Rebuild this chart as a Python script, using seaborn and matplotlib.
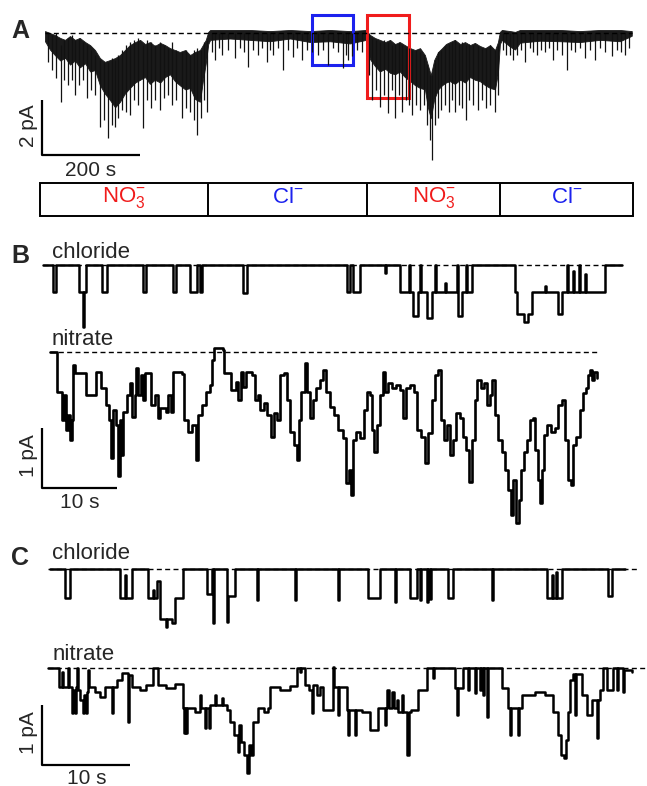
import matplotlib
matplotlib.use("Agg")
import matplotlib.pyplot as plt
from matplotlib.patches import Rectangle
import seaborn as sns

sns.set_theme(style="white")
plt.rcParams["font.family"] = ["Liberation Sans", "DejaVu Sans"]
plt.rcParams["mathtext.fontset"] = "custom"
plt.rcParams["mathtext.rm"] = "Liberation Sans"
plt.rcParams["mathtext.it"] = "Liberation Sans:italic"
plt.rcParams["mathtext.bf"] = "Liberation Sans:bold"

W, H = 647, 786
RED = "#f01c1c"
BLUE = "#1c22ee"

# ---------------- panel A: long recording (s, pA), dense band envelope + single spikes
a_env_t = [0, 10, 20, 31, 41, 51, 61, 71, 82, 92, 102, 112, 122, 133, 143, 153, 163, 173, 184, 194,
           204, 214, 224, 235, 245, 255, 265, 275, 286, 296, 306, 316, 322, 328, 333,
           337, 377, 418, 459, 500, 541, 581, 622, 655,
           657, 663, 673, 683, 694, 704, 714, 724, 734, 745, 755, 765, 775, 781, 787, 794, 802, 810,
           818, 826, 836, 847, 857, 867, 877, 887, 898, 908, 918, 924, 928,
           932, 949, 959, 969, 1010, 1051, 1091, 1132, 1173, 1197]
a_env_top = [0.07, 0, -0.07, -0.18, -0.25, -0.11, -0.25, -0.18, -0.33, -0.44,
             -0.62, -0.91, -1.05, -0.98, -0.91, -0.8, -0.62, -0.44, -0.33, -0.25,
             -0.4, -0.33, -0.47, -0.36, -0.44, -0.55, -0.62, -0.69, -0.62, -0.8,
             -0.69, -0.62, -0.44, -0.25, 0.04,
             0.11, 0.11, 0.11, 0.07, 0.11, 0.07, 0.11, 0.07, 0.11,
             0, -0.07, -0.18, -0.25, -0.33, -0.25, -0.4, -0.33, -0.44, -0.55,
             -0.62, -0.55, -0.8, -1.16, -1.53, -0.98, -0.69, -0.55, -0.4, -0.33,
             -0.25, -0.4, -0.33, -0.44, -0.36, -0.47, -0.55, -0.44, -0.62, -0.33, 0.04,
             0.11, 0.07, 0.04, 0.11, 0.11, 0.11, 0.07, 0.11, 0.11, 0.07]
a_env_bot = [-0.3, -0.6, -0.8, -1.0, -0.9, -1.15, -1.0, -1.25, -1.1, -1.4,
             -1.35, -1.9, -2.2, -2.45, -2.7, -2.5, -2.2, -2.0, -1.8, -1.7,
             -1.6, -1.85, -1.7, -1.8, -1.6, -1.5, -1.75, -1.9, -2.05, -2.0,
             -2.4, -2.5, -1.75, -1.1, -0.4,
             -0.25, -0.2, -0.25, -0.3, -0.2, -0.33, -0.3, -0.38, -0.25,
             -0.5, -0.95, -1.2, -1.4, -1.3, -1.45, -1.5, -1.4, -1.6, -1.75,
             -1.9, -2.0, -2.05, -2.7, -3.1, -2.4, -2.05, -1.9, -1.8, -1.75,
             -1.85, -1.7, -1.8, -1.6, -1.7, -1.75, -1.9, -2.0, -2.05, -1.45, -0.4,
             -0.25, -0.5, -0.6, -0.35, -0.28, -0.3, -0.33, -0.25, -0.3, -0.1]
a_spike_t = [6, 14, 22, 33, 39, 47, 55, 61, 69, 78, 86, 94, 102, 112, 120, 129, 137, 143, 149, 157,
             165, 173, 182, 190, 200, 208, 216, 224, 235, 243, 251, 259, 267, 279, 288, 296, 304, 310,
             318, 324, 330,
             341, 347, 355, 361, 373, 388, 398, 406, 414, 424, 435, 443, 453, 459, 465, 475, 486, 496,
             506, 514, 524, 534, 545, 557, 567, 577, 588, 598, 608, 614, 618, 626, 637, 647,
             661, 667, 675, 683, 692, 700, 708, 714, 722, 728, 736, 743, 749, 757, 765, 773, 779, 785,
             789, 796, 802, 808, 816, 824, 830, 836, 845, 851, 859, 865, 873, 883, 891, 900, 908, 918,
             924,
             934, 940, 949, 955, 963, 971, 979, 989, 996, 1004, 1012, 1020, 1028, 1036, 1044, 1055,
             1065, 1073, 1081, 1091, 1102, 1112, 1122, 1132, 1142, 1157, 1167, 1175, 1183, 1191]
a_spike_top = [0, -0.07, 0, -0.44, -0.25, -0.18, -0.07, -0.25, -0.18, -0.33, -0.44, -0.62, -0.8,
               -0.98, -1.05, -1.05, -0.91, -0.98, -0.8, -0.62, -0.44, -0.33, -0.25, -0.18, -0.44,
               -0.25, -0.33, -0.44, -0.33, -0.44, -0.55, -0.33, -0.62, -0.69, -0.62, -0.8, -0.62,
               -0.55, -0.62, -0.33, -0.25] + [0] * 34 + \
              [0, -0.18, -0.25, -0.33, -0.25, -0.33, -0.44, -0.4, -0.33, -0.44, -0.55, -0.55, -0.62,
               -0.62, -0.69, -0.8, -1.16, -1.53, -1.53, -0.98, -0.69, -0.62, -0.47, -0.4, -0.33,
               -0.25, -0.4, -0.33, -0.44, -0.4, -0.44, -0.47, -0.55, -0.55, -0.44, -0.62, -0.44] + [0] * 30
a_spike_bot = [-1.05, -1.35, -1.64, -2.51, -1.71, -1.89, -1.71, -2.25, -1.89, -1.71, -2.36, -2.07,
               -2.25, -3.42, -3.16, -3.82, -3.35, -3.42, -3.09, -2.8, -2.87, -2.98, -2.44, -2.62,
               -3.45, -2.44, -2.73, -2.44, -2.8, -2.36, -2.25, -2.62, -2.44, -3.09, -2.73, -2.87,
               -3.16, -3.71, -3.09, -2.44, -2.87,
               -0.69, -0.98, -0.55, -0.8, -0.62, -0.91, -0.55, -0.69, -1.24, -0.62, -0.8, -0.55,
               -1.05, -0.62, -0.8, -0.55, -1.35, -0.62, -0.87, -0.55, -0.98, -0.62, -0.69, -0.8,
               -0.62, -1.16, -0.55, -0.69, -1.27, -0.8, -0.98, -0.84, -0.62, -0.69,
               -1.53, -2.44, -2.07, -2.69, -2.25, -2.91, -2.07, -3.09, -2.25, -2.87, -2.44, -2.62,
               -2.98, -2.62, -2.8, -2.62, -3.35, -3.89, -4.62, -3.35, -3.09, -2.8, -2.62, -2.87,
               -2.44, -2.87, -2.62, -2.73, -3.16, -2.44, -2.62, -2.8, -2.44, -2.73, -2.62, -2.87,
               -2.25,
               -0.62, -0.8, -0.8, -0.98, -0.8, -0.62, -1.05, -0.55, -0.69, -0.8, -0.62, -0.69, -0.55,
               -0.98, -0.62, -0.8, -1.35, -0.62, -0.69, -0.55, -0.91, -0.62, -0.98, -0.55, -0.69,
               -0.84, -0.62, -0.69, -0.8, -0.55]
a_solution_edges = [-10, 333, 657, 928, 1200]
a_solution_labels = [r"NO$_\mathregular{3}^\mathregular{-}$", r"Cl$^\mathregular{-}$",
                     r"NO$_\mathregular{3}^\mathregular{-}$", r"Cl$^\mathregular{-}$"]
a_solution_colors = [RED, BLUE, RED, BLUE]
a_blue_box = (545, 628, -1.16, 0.65)
a_red_box = (657, 743, -2.36, 0.65)

# ---------------- panel B
b_cl_t = [0, 1.33, 1.73, 4.8, 5.33, 5.53, 5.73, 7.87, 8.53, 13.33, 13.67, 17.33, 17.73, 19.6, 20.53,
          20.93, 21.2, 26.67, 27.2, 40.53, 40.93, 41.33, 42.27, 45.6, 45.73, 47.6, 48.8, 48.93, 49.33,
          50.0, 50.27, 50.4, 51.2, 51.87, 52.27, 52.4, 53.6, 53.73, 55.2, 55.33, 55.87, 56.4, 56.53,
          57.2, 62.93, 63.2, 64.13, 64.67, 65.2, 66.93, 67.07, 68.67, 69.2, 69.87, 70.0, 70.67, 70.8,
          71.47, 71.6, 72.27, 72.4, 74.93, 77.2]
b_cl_i = [0, -0.45, 0, -0.45, -1.03, -0.45, 0, -0.45, 0, -0.45, 0, -0.45, 0, -0.45, 0,
          -0.45, 0, -0.47, 0, -0.45, 0, -0.45, 0, -0.13, 0, -0.45, 0, -0.45, -0.85,
          -0.45, 0, -0.45, -0.88, -0.45, 0, -0.45, -0.3, -0.45, 0, -0.85, -0.45, 0, -0.45,
          0, -0.45, -0.82, -0.95, -0.82, -0.45, -0.35, -0.45, -0.82, -0.45, 0, -0.45, -0.1, -0.45,
          0, -0.45, -0.15, -0.45, 0, 0]

b_no3_t = [0, 0.93, 1.6, 1.87, 2.13, 2.4, 2.67, 2.93, 3.07, 3.33, 4.8, 6.13, 6.8, 7.47, 7.87, 8.13,
           8.4, 8.8, 9.07, 9.33, 9.47, 9.73, 10.27, 10.67, 10.93, 11.33, 11.47, 11.73, 12.13, 12.4,
           12.67, 13.33, 13.47, 14.0, 14.4, 14.67, 15.47, 15.73, 16.13, 16.4, 17.6, 17.87, 18.4,
           18.93, 19.47, 19.73, 20.27, 20.8, 21.33, 21.6, 21.87, 23.0, 23.2, 23.87, 24.13, 24.8,
           25.07, 25.47, 25.73, 26.13, 26.93, 27.33, 27.73, 28.0, 28.53, 28.93, 29.47, 29.87, 30.27,
           30.67, 31.2, 31.6, 32.0, 32.53, 32.93, 33.2, 33.47, 34.0, 34.27, 34.67, 35.07, 35.47,
           36.0, 36.4, 36.8, 37.33, 37.87, 38.4, 39.07, 39.47, 39.87, 40.13, 40.4, 40.8, 41.33,
           41.87, 42.27, 42.67, 42.93, 43.2, 43.6, 44.0, 44.4, 44.67, 45.07, 45.6, 46.13, 46.67,
           47.07, 47.47, 48.0, 48.53, 48.93, 49.47, 50.0, 50.4, 50.93, 51.33, 51.73, 52.13, 52.53,
           52.93, 53.33, 53.73, 54.13, 54.67, 55.07, 55.47, 55.87, 56.27, 56.67, 56.93, 57.47,
           57.87, 58.27, 58.67, 58.93, 59.33, 59.73, 60.27, 60.67, 61.07, 61.47, 61.73, 62.13,
           62.53, 62.8, 63.2, 63.6, 64.0, 64.4, 64.67, 65.07, 65.33, 65.6, 65.87, 66.27, 66.8,
           67.33, 67.73, 68.27, 68.67, 69.07, 69.47, 69.73, 70.13, 70.67, 71.07, 71.47, 71.73,
           72.0, 72.27, 72.53, 72.93]
b_no3_i = [0, -0.67, -1.13, -0.72, -1.3, -1.05, -1.47, -1.13, -0.22, -0.35, -0.72, -0.33, -0.6,
           -0.88, -1.13, -1.77, -0.97, -1.22, -2.07, -1.13, -1.72, -1.0, -0.72, -0.52, -1.08, -0.72,
           -0.27, -0.72, -0.38, -0.8, -0.35, -0.35, -0.88, -0.72, -1.1, -0.93, -1.0, -0.72, -1.0,
           -0.33, -0.37, -1.13, -1.33, -1.22, -1.8, -1.05, -0.88, -0.67, -0.55, -0.13, 0.07, 0.03,
           -0.35, -0.35, -0.63, -0.5, -0.8, -0.33, -0.58, -0.33, -0.38, -0.8, -0.72, -0.97, -0.85,
           -1.05, -1.42, -1.02, -1.13, -0.38, -0.35, -0.8, -1.33, -1.55, -1.8, -1.13, -0.67, -0.18,
           -0.67, -1.1, -0.8, -0.6, -0.47, -0.3, -0.67, -0.92, -1.05, -1.3, -1.43, -2.18, -1.97,
           -2.38, -1.47, -1.33, -1.43, -0.97, -0.67, -0.72, -1.3, -1.67, -1.22, -0.72, -0.33, -0.67,
           -0.52, -0.6, -0.55, -0.63, -1.1, -0.6, -0.55, -0.67, -1.3, -1.42, -1.85, -1.35, -0.8,
           -0.38, -0.3, -1.13, -1.47, -1.22, -1.72, -1.47, -1.02, -1.1, -1.42, -1.63, -2.17, -1.47,
           -0.8, -0.47, -0.6, -0.52, -0.88, -0.72, -0.47, -1.05, -1.47, -1.67, -1.97, -2.3, -2.72,
           -2.13, -2.85, -2.47, -1.97, -1.67, -1.47, -1.13, -1.1, -1.63, -2.13, -2.52, -1.97, -1.38,
           -1.22, -1.33, -1.27, -0.88, -0.8, -1.47, -2.13, -2.22, -1.55, -1.42, -0.97, -0.68, -0.6,
           -0.38, -0.3, -0.47, -0.33, -0.43]

# ---------------- panel C
c_cl_t = [0, 1.70, 2.27, 7.95, 8.52, 8.64, 9.32, 11.14, 11.70, 11.82, 12.16, 12.5, 13.18, 13.30,
          13.86, 14.20, 15.11, 17.84, 18.41, 18.52, 18.64, 20.11, 20.23, 21.02, 23.52, 23.64, 27.84,
          27.95, 32.73, 32.84, 36.14, 37.5, 39.20, 39.32, 40.91, 41.70, 42.05, 42.16, 42.84, 42.95,
          43.18, 43.30, 45.23, 45.80, 50.23, 50.34, 56.48, 57.05, 57.16, 57.50, 57.61, 58.18, 63.41,
          63.86, 65.34]
c_cl_i = [0, -0.48, 0, -0.48, -0.1, -0.48, 0, -0.48, -0.35, -0.48, -0.2, -0.83, -0.97, -0.83,
          -0.9, -0.48, 0, -0.42, 0, -0.9, 0, -0.88, -0.45, 0, -0.52, 0, -0.52,
          0, -0.52, 0, -0.48, 0, -0.55, 0, -0.48, 0, -0.52, 0, -0.55, 0,
          -0.5, 0, -0.48, 0, -0.52, 0, -0.48, -0.1, -0.48, -0.05, -0.48, 0, -0.45,
          0, 0]

c_no3_t = [0, 1.25, 1.59, 1.70, 2.27, 2.39, 2.73, 2.84, 3.07, 3.18, 3.30, 3.41, 3.64, 3.98, 4.09,
           4.32, 4.43, 4.55, 4.66, 5.34, 5.91, 6.48, 7.27, 7.44, 7.84, 8.41, 9.09, 9.20, 9.55, 10.45,
           11.14, 11.93, 12.5, 13.41, 14.43, 15.34, 15.45, 15.57, 15.68, 15.80, 16.70, 17.27, 17.39,
           17.84, 17.95, 18.30, 18.41, 18.98, 19.09, 19.77, 19.89, 20.34, 20.68, 21.14, 21.59, 21.70,
           21.93, 22.27, 22.61, 22.84, 23.07, 23.30, 23.86, 24.55, 25.0, 25.23, 26.36, 27.5, 28.30,
           28.64, 28.75, 29.20, 29.66, 30.0, 30.11, 30.57, 30.91, 31.25, 32.39, 32.5, 32.95, 33.07,
           33.98, 34.09, 34.20, 34.89, 35.0, 35.68, 36.59, 37.5, 38.30, 38.41, 38.52, 38.75, 39.09,
           39.32, 39.66, 39.77, 40.23, 40.34, 40.80, 41.02, 41.25, 42.05, 43.07, 43.75, 43.86, 46.25,
           46.48, 46.59, 47.16, 47.73, 47.84, 48.52, 48.64, 49.09, 49.20, 49.43, 49.55, 49.89, 50.0,
           51.59, 52.27, 52.5, 52.61, 53.41, 53.52, 53.86, 55.34, 56.48, 57.39, 57.95, 58.30, 58.64,
           58.86, 59.09, 59.32, 59.66, 59.89, 60.0, 60.68, 61.25, 61.82, 62.39, 62.5, 62.73, 63.07,
           63.52, 64.20, 64.66, 64.77, 65.34, 65.45, 66.36]
c_no3_i = [0, -0.32, -0.07, -0.32, 0, -0.32, -0.75, -0.37, -0.75, -0.32, 0, -0.37, -0.53, -0.75,
           -0.45, -0.75, -0.4, -0.03, -0.32, -0.4, -0.48, -0.32, -0.75, -0.32, -0.2, -0.08, -0.9,
           -0.12, -0.32, -0.37, -0.28, 0, -0.28, -0.33, -0.27, -0.67, -1.08, -0.67, -1.08, -0.67,
           -0.73, -0.45, -0.67, -1.0, -0.67, -1.0, -0.62, -0.45, -0.62, -0.5, -0.62, -0.7, -0.9,
           -1.12, -1.4, -0.95, -1.23, -1.45, -1.75, -1.28, -1.45, -0.9, -0.67, -0.73, -0.67, -0.32,
           -0.37, -0.3, 0, -0.07, 0, -0.28, -0.37, -0.75, -0.28, -0.45, -0.32, -0.7, 0.02, -0.32,
           -0.78, -0.32, -0.7, -1.12, -0.7, -1.12, -0.7, -0.73, -1.03, -0.67, -0.95, -0.67, -0.37,
           -0.67, -0.4, -0.67, -0.53, -0.73, -0.45, -0.73, -1.45, -0.73, -0.7, -0.37, 0, -0.17, 0,
           -0.33, -0.78, -0.33, 0, -0.37, 0, -0.42, 0, -0.37, 0, -0.45, 0, -0.82, 0, -0.33, -0.67,
           -1.12, -0.67, -1.12, -0.67, -0.45, -0.4, -0.45, -0.73, -1.12, -1.45, -1.5, -1.2, -0.73,
           -0.2, -0.1, -0.78, -0.1, -0.45, -0.78, -0.53, -1.17, -0.53, -0.37, 0, -0.37, 0, -0.37, 0,
           -0.4, -0.03, -0.07]

SCALE_A = (200, 2)   # s, pA
SCALE_BC = (10, 1)   # s, pA


def overlay(fig, x0, y0, px_per_s, px_per_pa):
    # transparent axes over the whole figure, t=0 / I=0 at pixel (x0, y0)
    ax = fig.add_axes([0, 0, 1, 1])
    ax.set_xlim(-x0 / px_per_s, (W - x0) / px_per_s)
    ax.set_ylim((y0 - H) / px_per_pa, y0 / px_per_pa)
    ax.set_axis_off()
    return ax


def trace(ax, t, i, lw=1.8):
    sns.lineplot(x=t, y=i, estimator=None, sort=False, color="black", lw=lw,
                 drawstyle="steps-post", ax=ax, legend=False)


def baseline(ax, t0, t1):
    ax.plot([t0, t1], [0, 0], color="black", lw=1.0, ls=(0, (3.6, 2.4)))


def scalebar(ax, t, i, dt, di):
    ax.plot([t, t, t + dt], [i + di, i, i], color="black", lw=1.6, solid_capstyle="butt")


def ftext(fig, x, y, s, **kw):
    fig.text(x / W, 1 - y / H, s, **kw)


fig = plt.figure(figsize=(W / 100, H / 100), dpi=100)

# A
ax = overlay(fig, 45, 33, 1 / 2.04, 27.5)
ax.fill_between(a_env_t, a_env_bot, a_env_top, color="#1a1a1a", lw=0.6)
ax.vlines(a_spike_t, a_spike_bot, a_spike_top, color="#111111", lw=0.9)
baseline(ax, 0, 1197)
for (t0, t1, i0, i1), col in [(a_blue_box, BLUE), (a_red_box, RED)]:
    ax.add_patch(Rectangle((t0, i0), t1 - t0, i1 - i0, fill=False, ec=col, lw=2.2))
bar_lo, bar_hi = -6.65, -5.45
ax.add_patch(Rectangle((a_solution_edges[0], bar_lo), a_solution_edges[-1] - a_solution_edges[0],
                       bar_hi - bar_lo, fill=False, ec="black", lw=1.4))
ax.vlines(a_solution_edges[1:-1], bar_lo, bar_hi, color="black", lw=1.4)
for k, (lab, col) in enumerate(zip(a_solution_labels, a_solution_colors)):
    ax.text((a_solution_edges[k] + a_solution_edges[k + 1]) / 2, (bar_lo + bar_hi) / 2 + 0.05, lab,
            color=col, fontsize=16, ha="center", va="center")
scalebar(ax, -6, -4.44, *SCALE_A)
ftext(fig, 29, 126, f"{SCALE_A[1]} pA", rotation=90, ha="center", va="center", fontsize=15)
ftext(fig, 91, 170, f"{SCALE_A[0]} s", ha="center", va="center", fontsize=15)

# B
ax = overlay(fig, 43, 265, 7.5, 60)
trace(ax, b_cl_t, b_cl_i)
baseline(ax, 0, 77.2)
ax = overlay(fig, 50, 352, 7.5, 60)
trace(ax, b_no3_t, b_no3_i, lw=1.9)
baseline(ax, 0, 73.3)
scalebar(ax, -1.07, -2.27, *SCALE_BC)
ftext(fig, 28, 456, f"{SCALE_BC[1]} pA", rotation=90, ha="center", va="center", fontsize=15)
ftext(fig, 80, 503, f"{SCALE_BC[0]} s", ha="center", va="center", fontsize=15)

# C
ax = overlay(fig, 50, 569, 8.8, 60)
trace(ax, c_cl_t, c_cl_i)
baseline(ax, -0.2, 66.7)
ax = overlay(fig, 48, 668, 8.8, 60)
trace(ax, c_no3_t, c_no3_i)
baseline(ax, 0, 67.8)
scalebar(ax, -0.68, -1.62, *SCALE_BC)
ftext(fig, 28, 733, f"{SCALE_BC[1]} pA", rotation=90, ha="center", va="center", fontsize=15)
ftext(fig, 87, 778, f"{SCALE_BC[0]} s", ha="center", va="center", fontsize=15)

# labels
for lab, x, y in [("A", 11, 38), ("B", 11, 263), ("C", 11, 565)]:
    ftext(fig, x, y, lab, fontsize=18, fontweight="bold", va="baseline")
for lab, x, y in [("chloride", 52, 258), ("nitrate", 52, 345), ("chloride", 52, 559), ("nitrate", 53, 660)]:
    ftext(fig, x, y, lab, fontsize=16, va="baseline")

fig.savefig("out.png", dpi=100)
